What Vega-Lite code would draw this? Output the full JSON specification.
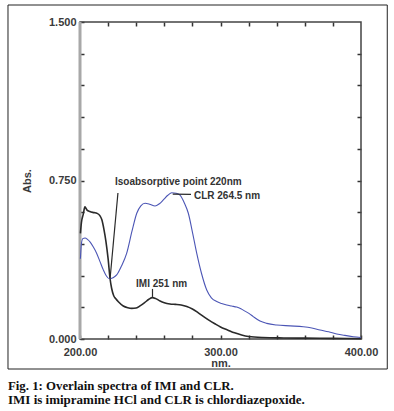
{
  "$schema": "https://vega.github.io/schema/vega-lite/v6.json",
  "width": 281,
  "height": 317,
  "autosize": {"type": "none"},
  "padding": {"left": 80, "top": 22, "right": 33, "bottom": 72},
  "background": "white",
  "config": {
    "view": {"stroke": null},
    "axis": {"labelFont": "Liberation Sans", "labelFontSize": 11, "labelFontWeight": "bold", "labelColor": "#3a3a3a", "titleFont": "Liberation Sans", "titleFontSize": 11, "titleFontWeight": "bold", "titleColor": "#3a3a3a", "grid": false, "labelOverlap": false, "labelFlush": false}
  },
  "title": {
    "text": "Fig. 1: Overlain spectra of IMI and CLR.",
    "subtitle": "IMI is imipramine HCl and CLR is chlordiazepoxide.",
    "orient": "bottom",
    "anchor": "start",
    "frame": "group",
    "dx": -72,
    "offset": 10,
    "font": "Liberation Serif",
    "fontSize": 12.8,
    "fontWeight": "bold",
    "color": "#111",
    "subtitleFont": "Liberation Serif",
    "subtitleFontSize": 13,
    "subtitleFontWeight": "bold",
    "subtitleColor": "#111",
    "subtitlePadding": 2
  },
  "datasets": {
    "spectra": [
      {"series": "IMI", "nm": 200.3, "abs": 0.5},
      {"series": "IMI", "nm": 201, "abs": 0.55},
      {"series": "IMI", "nm": 202.3, "abs": 0.59},
      {"series": "IMI", "nm": 203.5, "abs": 0.625},
      {"series": "IMI", "nm": 205, "abs": 0.61},
      {"series": "IMI", "nm": 207, "abs": 0.603},
      {"series": "IMI", "nm": 210, "abs": 0.598},
      {"series": "IMI", "nm": 212, "abs": 0.595},
      {"series": "IMI", "nm": 214, "abs": 0.585},
      {"series": "IMI", "nm": 215.5, "abs": 0.565},
      {"series": "IMI", "nm": 217, "abs": 0.52},
      {"series": "IMI", "nm": 218.5, "abs": 0.46},
      {"series": "IMI", "nm": 220, "abs": 0.38},
      {"series": "IMI", "nm": 221.4, "abs": 0.285},
      {"series": "IMI", "nm": 222.5, "abs": 0.24},
      {"series": "IMI", "nm": 224, "abs": 0.205},
      {"series": "IMI", "nm": 225.5, "abs": 0.19},
      {"series": "IMI", "nm": 227.3, "abs": 0.176},
      {"series": "IMI", "nm": 230.8, "abs": 0.156},
      {"series": "IMI", "nm": 234, "abs": 0.148},
      {"series": "IMI", "nm": 236.8, "abs": 0.145},
      {"series": "IMI", "nm": 240, "abs": 0.147},
      {"series": "IMI", "nm": 243, "abs": 0.158},
      {"series": "IMI", "nm": 246, "abs": 0.172},
      {"series": "IMI", "nm": 249, "abs": 0.188},
      {"series": "IMI", "nm": 251.5, "abs": 0.196},
      {"series": "IMI", "nm": 254, "abs": 0.191},
      {"series": "IMI", "nm": 257, "abs": 0.18},
      {"series": "IMI", "nm": 260, "abs": 0.172},
      {"series": "IMI", "nm": 264, "abs": 0.166},
      {"series": "IMI", "nm": 268, "abs": 0.164},
      {"series": "IMI", "nm": 272, "abs": 0.161},
      {"series": "IMI", "nm": 276, "abs": 0.154},
      {"series": "IMI", "nm": 280, "abs": 0.142},
      {"series": "IMI", "nm": 284, "abs": 0.125},
      {"series": "IMI", "nm": 288, "abs": 0.106},
      {"series": "IMI", "nm": 292, "abs": 0.088},
      {"series": "IMI", "nm": 296, "abs": 0.072},
      {"series": "IMI", "nm": 300, "abs": 0.057},
      {"series": "IMI", "nm": 305, "abs": 0.043},
      {"series": "IMI", "nm": 310, "abs": 0.029},
      {"series": "IMI", "nm": 315, "abs": 0.019},
      {"series": "IMI", "nm": 320, "abs": 0.012},
      {"series": "IMI", "nm": 330, "abs": 0.007},
      {"series": "IMI", "nm": 345, "abs": 0.005},
      {"series": "IMI", "nm": 360, "abs": 0.004},
      {"series": "IMI", "nm": 380, "abs": 0.003},
      {"series": "IMI", "nm": 400, "abs": 0.002},
      {"series": "CLR", "nm": 200.3, "abs": 0.38},
      {"series": "CLR", "nm": 201, "abs": 0.45},
      {"series": "CLR", "nm": 202, "abs": 0.475},
      {"series": "CLR", "nm": 203.6, "abs": 0.478},
      {"series": "CLR", "nm": 205.5, "abs": 0.47},
      {"series": "CLR", "nm": 207.1, "abs": 0.46},
      {"series": "CLR", "nm": 209.5, "abs": 0.435},
      {"series": "CLR", "nm": 211.9, "abs": 0.405},
      {"series": "CLR", "nm": 214.3, "abs": 0.365},
      {"series": "CLR", "nm": 216.6, "abs": 0.327},
      {"series": "CLR", "nm": 218.8, "abs": 0.298},
      {"series": "CLR", "nm": 220.9, "abs": 0.285},
      {"series": "CLR", "nm": 223.5, "abs": 0.29},
      {"series": "CLR", "nm": 226.1, "abs": 0.303},
      {"series": "CLR", "nm": 229.5, "abs": 0.345},
      {"series": "CLR", "nm": 233.2, "abs": 0.405},
      {"series": "CLR", "nm": 237, "abs": 0.51},
      {"series": "CLR", "nm": 240.4, "abs": 0.595},
      {"series": "CLR", "nm": 243.3, "abs": 0.63},
      {"series": "CLR", "nm": 246.3, "abs": 0.642},
      {"series": "CLR", "nm": 249.5, "abs": 0.638},
      {"series": "CLR", "nm": 253.4, "abs": 0.629},
      {"series": "CLR", "nm": 256.5, "abs": 0.64},
      {"series": "CLR", "nm": 259.3, "abs": 0.658},
      {"series": "CLR", "nm": 262.5, "abs": 0.68},
      {"series": "CLR", "nm": 265.3, "abs": 0.692},
      {"series": "CLR", "nm": 268.5, "abs": 0.69},
      {"series": "CLR", "nm": 271.2, "abs": 0.681},
      {"series": "CLR", "nm": 274.2, "abs": 0.645},
      {"series": "CLR", "nm": 277.1, "abs": 0.595},
      {"series": "CLR", "nm": 280.2, "abs": 0.5},
      {"series": "CLR", "nm": 283.1, "abs": 0.405},
      {"series": "CLR", "nm": 286.5, "abs": 0.31},
      {"series": "CLR", "nm": 290.2, "abs": 0.232},
      {"series": "CLR", "nm": 293.5, "abs": 0.195},
      {"series": "CLR", "nm": 297.3, "abs": 0.177},
      {"series": "CLR", "nm": 300.8, "abs": 0.168},
      {"series": "CLR", "nm": 304.4, "abs": 0.161},
      {"series": "CLR", "nm": 308, "abs": 0.156},
      {"series": "CLR", "nm": 311.5, "abs": 0.151},
      {"series": "CLR", "nm": 314.5, "abs": 0.143},
      {"series": "CLR", "nm": 317.4, "abs": 0.132},
      {"series": "CLR", "nm": 320.5, "abs": 0.12},
      {"series": "CLR", "nm": 323.3, "abs": 0.106},
      {"series": "CLR", "nm": 328.1, "abs": 0.085},
      {"series": "CLR", "nm": 332.9, "abs": 0.074},
      {"series": "CLR", "nm": 340, "abs": 0.066},
      {"series": "CLR", "nm": 349.5, "abs": 0.062},
      {"series": "CLR", "nm": 358.9, "abs": 0.058},
      {"series": "CLR", "nm": 365, "abs": 0.052},
      {"series": "CLR", "nm": 370.8, "abs": 0.043},
      {"series": "CLR", "nm": 377, "abs": 0.034},
      {"series": "CLR", "nm": 382.7, "abs": 0.024},
      {"series": "CLR", "nm": 388.5, "abs": 0.017},
      {"series": "CLR", "nm": 394.5, "abs": 0.011},
      {"series": "CLR", "nm": 400, "abs": 0.007}
    ],
    "leaders": [
      {"name": "iso", "nm1": 221.4, "nm2": 227.0, "a1": 0.285, "a2": 0.691},
      {"name": "clr", "nm1": 266.0, "nm2": 279.0, "a1": 0.686, "a2": 0.684},
      {"name": "imi", "nm1": 251.6, "nm2": 251.6, "a1": 0.199, "a2": 0.237}
    ],
    "labels": [
      {"text": "Isoabsorptive point 220nm", "nm": 224.9, "abs": 0.743},
      {"text": "CLR 264.5 nm", "nm": 281.1, "abs": 0.679},
      {"text": "IMI 251 nm", "nm": 239.9, "abs": 0.26}
    ],
    "frame": [{}]
  },
  "resolve": {"axis": {"x": "independent", "y": "independent"}},
  "layer": [
    {
      "data": {"name": "frame"},
      "mark": {"type": "rect", "fill": "transparent", "stroke": "#444", "strokeWidth": 1.5, "clip": false},
      "encoding": {
        "x": {"datum": 200, "type": "quantitative", "axis": null},
        "x2": {"datum": 400},
        "y": {"datum": 0, "type": "quantitative", "axis": null},
        "y2": {"datum": 1.5}
      }
    },
    {
      "data": {"name": "frame"},
      "mark": {"type": "rule", "color": "#a8a8a8", "strokeWidth": 3},
      "encoding": {
        "x": {"datum": 200, "type": "quantitative", "axis": null},
        "y": {"datum": 0, "type": "quantitative", "axis": null},
        "y2": {"datum": 1.5}
      }
    },
    {
      "data": {"name": "spectra"},
      "mark": {"type": "line", "interpolate": "monotone"},
      "encoding": {
        "x": {"field": "nm", "type": "quantitative", "scale": {"domain": [200, 400], "nice": false, "zero": false},
          "axis": {"orient": "bottom", "title": "nm.", "domain": false, "offset": -4, "tickSize": 4, "tickWidth": 1.5, "tickColor": "#333", "values": [200, 220, 240, 260, 280, 300, 320, 340, 360, 380, 400], "labelExpr": "datum.value % 100 === 0 ? format(datum.value, '.2f') : ''", "labelPadding": 7, "titlePadding": 0}},
        "y": {"field": "abs", "type": "quantitative", "scale": {"domain": [0, 1.5], "nice": false},
          "axis": {"orient": "left", "title": "Abs.", "domain": false, "offset": -4, "tickSize": 4, "tickWidth": 1.5, "tickColor": "#333", "values": [0, 0.15, 0.3, 0.45, 0.6, 0.75, 0.9, 1.05, 1.2, 1.35, 1.5], "labelExpr": "(datum.value === 0 || abs(datum.value - 0.75) < 0.001 || abs(datum.value - 1.5) < 0.001) ? format(datum.value, '.3f') : ''", "labelPadding": 4, "titlePadding": 16}},
        "color": {"field": "series", "type": "nominal", "scale": {"domain": ["IMI", "CLR"], "range": ["#2a2a2a", "#4b55b5"]}, "legend": null},
        "strokeWidth": {"field": "series", "type": "nominal", "scale": {"domain": ["IMI", "CLR"], "range": [1.6, 1.1]}, "legend": null}
      }
    },
    {
      "data": {"name": "leaders"},
      "mark": {"type": "rule", "color": "#2a2a2a", "strokeWidth": 1.2},
      "encoding": {
        "x": {"field": "nm1", "type": "quantitative", "axis": {"orient": "top", "title": null, "labels": false, "domain": false, "offset": -4, "tickSize": 4, "tickWidth": 1.5, "tickColor": "#333", "values": [220, 240, 260, 280, 300, 320, 340, 360, 380]}},
        "x2": {"field": "nm2"},
        "y": {"field": "a1", "type": "quantitative", "axis": {"orient": "right", "title": null, "labels": false, "domain": false, "offset": -4, "tickSize": 4, "tickWidth": 1.5, "tickColor": "#333", "values": [0.15, 0.3, 0.45, 0.6, 0.75, 0.9, 1.05, 1.2, 1.35]}},
        "y2": {"field": "a2"}
      }
    },
    {
      "data": {"name": "labels"},
      "mark": {"type": "text", "align": "left", "baseline": "middle", "font": "Liberation Sans", "fontSize": 10, "fontWeight": "bold", "color": "#333"},
      "encoding": {
        "x": {"field": "nm", "type": "quantitative", "axis": null},
        "y": {"field": "abs", "type": "quantitative", "axis": null},
        "text": {"field": "text"}
      }
    },
    {
      "data": {"name": "frame"},
      "mark": {"type": "rect", "fill": "transparent", "stroke": "#222", "strokeWidth": 1, "clip": false},
      "encoding": {
        "x": {"datum": 148.75, "type": "quantitative", "axis": null},
        "x2": {"datum": 418.7},
        "y": {"datum": 1.5804, "type": "quantitative", "axis": null},
        "y2": {"datum": -0.142}
      }
    }
  ]
}
